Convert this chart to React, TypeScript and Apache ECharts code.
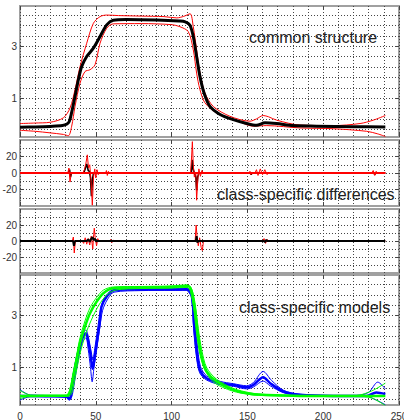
import { useEffect, useRef } from "react";
import * as echarts from "echarts";

type P = [number, number][];

// ---- axis values ----
const xTickLabels = [0, 50, 100, 150, 200, 250];
const structureGridValues = [-0.2, 0.2, 0.6, 1, 1.4, 1.8, 2.2, 2.6, 3, 3.4, 3.8, 4.2];
const structureTickLabels = [1, 3];
const diffGridValues = [-30, -20, -10, 0, 10, 20, 30];
const diffTickLabels = [-20, 0, 20];

// ---- panel titles ----
const titles = ["common structure", "class-specific differences", "class-specific models"];

// ---- panel 1: common structure ----
const commonMean: P = [
  [0, -0.12], [10, -0.11], [20, -0.09], [28, -0.06], [31, 0.0], [32.5, 0.1], [34, 0.43], [36.3, 1.07],
  [38.5, 1.71], [40.7, 2.22], [44, 2.61], [48.4, 2.93], [52.8, 3.38], [57.2, 3.83], [61.5, 4.01], [70, 4.04],
  [90, 4.02], [105, 3.98], [109, 3.95], [112, 3.83], [114.3, 3.38], [116.5, 2.61], [118.7, 1.84], [121.4, 1.2],
  [125.3, 0.68], [132, 0.37], [140.7, 0.17], [149.5, 0.02], [156, -0.05], [161.6, 0.05], [169.3, 0.02],
  [180, -0.06], [195.7, -0.08], [220, -0.1], [241, -0.11],
];
const commonUpper: P = [
  [0, 0.02], [10, 0.04], [20, 0.07], [28.6, 0.24], [33, 0.62], [36.3, 1.33], [39.6, 2.22], [44, 3.12],
  [48.4, 3.89], [52.8, 4.15], [57.2, 4.21], [65, 4.19], [80, 4.17], [95, 4.15], [103.4, 4.1], [108, 4.16],
  [112.2, 4.26], [114.3, 3.76], [116.5, 2.87], [118.7, 1.97], [122, 1.2], [127.5, 0.68], [138.5, 0.3],
  [151.7, 0.11], [156, 0.2], [160.4, 0.33], [164, 0.28], [169.3, 0.15], [184.7, -0.04], [206.6, -0.06],
  [224.3, 0.02], [233, 0.15], [241, 0.33],
];
const commonLower: P = [
  [0, -0.24], [10, -0.28], [19.8, -0.34], [28.6, -0.4], [31.9, -0.45], [34.1, -0.08], [36.3, 0.68],
  [39.6, 1.58], [42.9, 2.03], [46.2, 2.1], [49.5, 2.29], [52.8, 3.12], [57.2, 3.7], [61.5, 3.87], [80, 3.88],
  [100, 3.84], [105.5, 3.76], [111, 3.57], [114.3, 2.87], [116.5, 1.97], [118.7, 1.33], [122, 0.82],
  [129.7, 0.43], [140.7, 0.2], [153.9, -0.08], [162.8, -0.06], [184.7, -0.15], [206.6, -0.18],
  [228.7, -0.28], [236, -0.38], [241, -0.48],
];

// ---- panel 2: class-specific differences (class A) ----
const diffAZero: P = [[0, 0], [241, 0]];
const diffARed: P = [
  [0, 0], [31.5, 0], [32.3, 6], [33, -11], [33.8, 0], [41.5, 0], [42.5, 4], [43.5, 12], [44.4, 22],
  [45.2, 6], [46, 10], [46.8, -8], [47.7, -39], [48.5, -5], [49.3, 5], [50, -6], [50.8, 4], [51.6, -2],
  [52.5, 0], [56.5, 0], [57, 3], [57.6, -3], [58.3, 2], [59, 0], [112.5, 0], [113.2, 20], [113.7, 38],
  [114.3, 10], [115, -5], [116, 0], [116.5, -33], [117.3, -8], [118, 5], [119, -4], [120, 3], [121, 0],
  [151, 0], [151.7, 2], [152.3, -2], [153, 0], [155, 0], [156, 4], [157, -3], [158.5, 5], [160, -2],
  [161.5, 4], [163, -2], [164, 0], [232, 0], [233, 3], [234, -3], [235, 2], [236, 0], [241, 0],
];
const diffABlack: P = [
  [0, 0], [32, 0], [32.7, 4], [33.3, -5], [34, 0], [42, 0], [43, 5], [44, 11], [45, 3], [45.8, 2],
  [46.5, -6], [47.1, -28], [47.8, -8], [48.5, 0], [113, 0], [113.6, 16], [114.2, 5], [115, 0], [116, -5],
  [116.5, -21], [117.2, -5], [118, 0], [152, 0], [152.5, -2], [153, 0], [233.5, 0], [234, -2], [234.5, 1],
  [235, 0], [241, 0],
];

// ---- panel 3: class-specific differences (class B) ----
const diffBRed: P = [
  [0, 0], [34.5, 0], [35.2, 5], [35.8, -15], [36.5, 0], [41, 0], [42, -3], [43, 4], [44, -4], [45, 3],
  [46, -5], [47, 6], [48, -10], [48.6, 8], [49, 16], [49.6, 4], [50.5, -6], [51.3, 3], [52, 0], [59, 0],
  [59.8, 2], [60.6, -2], [61.5, 1], [62.5, 0], [115.5, 0], [116.2, 20], [116.8, 5], [117.6, -6],
  [118.5, 4], [119.5, -8], [120.3, -12], [121, 0], [160, 0], [161, 3], [162, -3], [163, 2], [164, 0],
  [241, 0],
];
const diffBBlack: P = [
  [0, 0], [35, 0], [35.6, -6], [36.2, 0], [44, 0], [45, 2], [46, -1], [47, 3], [47.8, 5], [48.5, 1],
  [49.3, 3], [50, 0], [116, 0], [116.5, 6], [117, -2], [117.5, 0], [161, 0], [161.5, -1.5], [162.5, 1.5],
  [163, 0], [241, 0],
];

// ---- panel 4: class-specific models ----
const blueMain: P = [
  [0, -0.09], [10, -0.09], [20, -0.1], [30.8, -0.12], [32.5, -0.2], [33.5, -0.1], [34.7, 0.4], [37.4, 1.29],
  [40.7, 2.06], [43.5, 2.32], [45, 2.0], [46.5, 1.5], [47.9, 0.95], [49, 1.3], [50.6, 1.94], [52.5, 2.7],
  [53.8, 3.35], [57.2, 3.73], [61.5, 3.96], [70, 4.0], [100, 4.0], [110, 4.01], [113.3, 3.79],
  [114.8, 2.71], [116.5, 1.68], [118.7, 0.91], [123.1, 0.59], [132, 0.4], [140.7, 0.33], [149.5, 0.24],
  [153.9, 0.33], [160.4, 0.63], [165, 0.4], [173.6, 0.08], [184.7, -0.05], [206.6, -0.09], [228.7, -0.09],
  [235, 0.04], [241, -0.02],
];
const blueUpper: P = [
  [0, 0.15], [7, -0.06], [30, -0.08], [32, -0.12], [33.5, 0.2], [35.5, 0.9], [38, 1.6], [41, 2.2],
  [43.5, 2.45], [45, 2.2], [47, 1.6], [48, 1.3], [49.5, 1.8], [51, 2.4], [53, 3.2], [55, 3.6], [58, 3.85],
  [62, 4.0], [80, 4.03], [100, 4.03], [110.5, 4.05], [113.5, 3.9], [115, 3.0], [116.8, 1.95], [119, 1.05],
  [123.1, 0.68], [132, 0.47], [140.7, 0.38], [149.5, 0.3], [153.9, 0.42], [160.4, 0.85], [166, 0.5],
  [174, 0.12], [184.7, -0.03], [206.6, -0.07], [222, -0.07], [230, 0.05], [236, 0.44], [241, 0.18],
];
const blueLower: P = [
  [0, -0.25], [7, -0.12], [30, -0.13], [32.5, -0.26], [34, -0.15], [35, 0.1], [37.5, 1.0], [40.7, 1.9],
  [43.5, 2.15], [45, 1.7], [46.5, 1.0], [47.6, 0.45], [48.8, 1.0], [50.6, 1.7], [52.8, 2.6], [54.5, 3.2],
  [57.5, 3.6], [62, 3.9], [80, 3.96], [100, 3.97], [109.5, 3.97], [113, 3.7], [114.5, 2.5], [116.3, 1.45],
  [118.5, 0.8], [123.1, 0.52], [132, 0.34], [140.7, 0.28], [149.5, 0.18], [153.9, 0.25], [160.4, 0.48],
  [165, 0.3], [173.6, 0.04], [184.7, -0.07], [206.6, -0.1], [228, -0.1], [235, -0.25], [241, -0.43],
];
const greenMain: P = [
  [0, -0.09], [10, -0.09], [20, -0.08], [30.8, -0.08], [33, 0.08], [35.2, 0.65], [37.4, 1.29], [39.6, 1.94],
  [42.9, 2.58], [46.2, 3.09], [50.6, 3.54], [55, 3.86], [61.5, 4.05], [80, 4.08], [100, 4.1], [110, 4.14],
  [112, 4.1], [113.3, 3.92], [115.4, 3.22], [117.6, 2.19], [119.8, 1.42], [123.1, 0.85], [129.7, 0.46],
  [140.7, 0.14], [151.7, -0.01], [162.8, -0.06], [184.7, -0.09], [228.7, -0.09], [241, -0.09],
];
const greenUpper: P = [
  [0, 0.12], [7, -0.06], [20, -0.07], [31, -0.06], [33, 0.2], [35, 0.8], [37.4, 1.5], [39.6, 2.15],
  [42.9, 2.8], [46.2, 3.3], [50.6, 3.7], [55, 3.98], [61.5, 4.1], [80, 4.12], [100, 4.14], [110, 4.18],
  [113, 4.05], [115.4, 3.5], [117.6, 2.5], [119.8, 1.7], [123.1, 1.0], [129.7, 0.55], [140.7, 0.2],
  [151.7, 0.03], [162.8, -0.04], [184.7, -0.07], [222, -0.07], [232, 0.1], [241, 0.4],
];
const greenLower: P = [
  [0, -0.2], [7, -0.1], [20, -0.1], [32, -0.1], [34, 0.0], [36, 0.5], [38, 1.1], [40.5, 1.75], [44, 2.4],
  [48, 2.95], [52, 3.4], [57, 3.78], [63, 3.98], [80, 4.04], [100, 4.06], [110.5, 4.08], [112.5, 3.9],
  [114.5, 3.3], [116.5, 2.3], [118.7, 1.5], [122, 0.9], [128, 0.42], [140, 0.1], [151.7, -0.04],
  [162.8, -0.08], [184.7, -0.1], [222, -0.1], [232, -0.17], [241, -0.46],
];

const FONT = "Liberation Sans";
const dotted = { type: [1, 2] as number[], color: "#444", width: 1 };

const panels = [
  { top: 6, height: 131, min: -0.5, max: 4.56, gridVals: structureGridValues, labels: structureTickLabels },
  { top: 140, height: 66, min: -40, max: 40, gridVals: diffGridValues, labels: diffTickLabels },
  { top: 209, height: 64, min: -40, max: 40, gridVals: diffGridValues, labels: diffTickLabels },
  { top: 275, height: 130, min: -0.44, max: 4.56, gridVals: structureGridValues, labels: structureTickLabels },
];

function line(panel: number, data: P, color: string, width: number, smooth: number | boolean, z = 2) {
  return {
    type: "line",
    xAxisIndex: panel * 2,
    yAxisIndex: panel * 3,
    data,
    symbol: "none",
    showSymbol: false,
    silent: true,
    smooth,
    z,
    lineStyle: { color, width },
  };
}

export default function App() {
  const ref = useRef<HTMLDivElement>(null);
  useEffect(() => {
    const chart = echarts.init(ref.current!, null, { renderer: "svg" });
    const grid = panels.map((p) => ({
      left: 20,
      width: 379,
      top: p.top,
      height: p.height,
      show: true,
      borderColor: "#a0a0a0",
      borderWidth: 2,
      backgroundColor: "#fff",
      containLabel: false,
      outerBoundsMode: "none",
    }));
    const xAxis: any[] = [];
    const yAxis: any[] = [];
    panels.forEach((p, i) => {
      xAxis.push({
        type: "value",
        gridIndex: i,
        position: "bottom",
        min: 0,
        max: 250,
        interval: 50,
        axisLine: { show: false, onZero: false },
        axisTick: { show: true, inside: true, length: 4, lineStyle: { color: "#444", width: 1 } },
        axisLabel: {
          show: i === 3,
          customValues: xTickLabels,
          margin: 6,
          fontSize: 10,
          color: "#333",
          fontFamily: FONT,
        },
        splitLine: { show: true, lineStyle: dotted },
        minorTick: { show: false, splitNumber: 5 },
        minorSplitLine: { show: true, lineStyle: dotted },
      });
      xAxis.push({
        type: "value",
        gridIndex: i,
        position: "top",
        min: 0,
        max: 250,
        interval: 50,
        axisLine: { show: false, onZero: false },
        axisTick: { show: true, inside: true, length: 4, lineStyle: { color: "#444", width: 1 } },
        axisLabel: { show: false },
        splitLine: { show: false },
      });
      yAxis.push({
        type: "value",
        gridIndex: i,
        position: "left",
        min: p.min,
        max: p.max,
        axisLine: { show: false, onZero: false },
        axisTick: { show: false, customValues: p.gridVals },
        axisLabel: { show: false },
        splitLine: { show: true, lineStyle: dotted },
      });
      yAxis.push({
        type: "value",
        gridIndex: i,
        position: "left",
        min: p.min,
        max: p.max,
        axisLine: { show: false, onZero: false },
        axisTick: { show: true, inside: true, length: 4, customValues: p.labels, lineStyle: { color: "#444" } },
        axisLabel: {
          show: true,
          customValues: p.labels,
          margin: 3,
          fontSize: 10,
          color: "#333",
          fontFamily: FONT,
          formatter: (v: number) => String(Math.round(v)),
        },
        splitLine: { show: false },
      });
      yAxis.push({
        type: "value",
        gridIndex: i,
        position: "right",
        min: p.min,
        max: p.max,
        axisLine: { show: false, onZero: false },
        axisTick: { show: true, inside: true, length: 4, customValues: p.labels, lineStyle: { color: "#444" } },
        axisLabel: { show: false },
        splitLine: { show: false },
      });
    });

    const series = [
      line(0, commonUpper, "#ff0000", 1, 0.3),
      line(0, commonLower, "#ff0000", 1, 0.3),
      line(0, commonMean, "#000000", 3, 0.3, 3),

      line(1, diffABlack, "#000000", 1.6, false),
      line(1, diffAZero, "#ff0000", 2.2, false, 3),
      line(1, diffARed, "#ff0000", 1, false, 4),

      line(2, diffBRed, "#ff0000", 1, false),
      line(2, diffBBlack, "#000000", 2, false, 3),

      line(3, blueUpper, "#0000ff", 1, 0.3),
      line(3, blueLower, "#0000ff", 1, 0.3),
      line(3, blueMain, "#0000ff", 2.5, 0.3),
      line(3, greenUpper, "#00ff00", 1, 0.3, 3),
      line(3, greenLower, "#00ff00", 1, 0.3, 3),
      line(3, greenMain, "#00ff00", 2.5, 0.3, 3),
    ];

    const textStyle = (text: string) => ({ text, fontSize: 16, fontFamily: FONT, fill: "#222" });
    const graphic = [
      { type: "text", left: 249, top: 29, z: 10, style: textStyle(titles[0]) },
      { type: "text", left: 217, top: 186, z: 10, style: textStyle(titles[1]) },
      { type: "text", left: 239, top: 299, z: 10, style: textStyle(titles[2]) },
    ];

    chart.setOption({
      animation: false,
      backgroundColor: "#ffffff",
      grid,
      xAxis,
      yAxis,
      series,
      graphic,
    } as any);
    return () => chart.dispose();
  }, []);
  return <div ref={ref} style={{ position: "fixed", left: 0, top: 0, width: 404, height: 420 }} />;
}
